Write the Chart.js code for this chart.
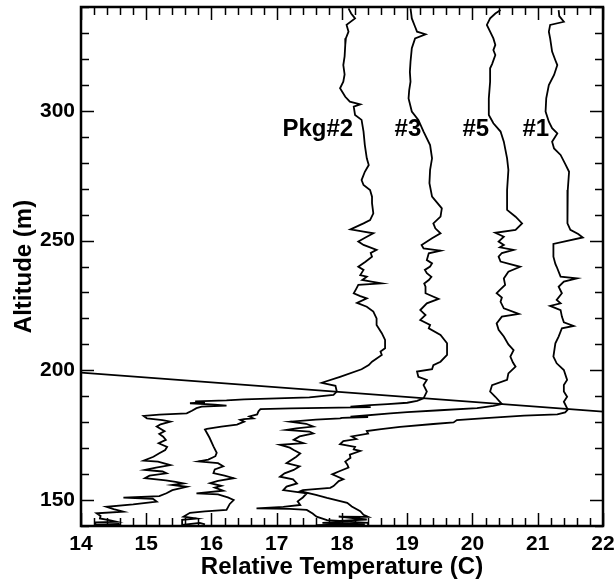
<!DOCTYPE html>
<html>
<head>
<meta charset="utf-8">
<script src="https://cdn.jsdelivr.net/npm/chart.js@4.4.0/dist/chart.umd.min.js"></script>
<style>
  html, body { margin: 0; padding: 0; background: #fff; }
  #wrap { width: 615px; height: 582px; }
</style>
</head>
<body>
<div id="wrap"><canvas id="chart" width="615" height="582"></canvas></div>
<script>
// profiles: [altitude (m), relative temperature (C)]
const pkg2 = [
  [339.5,18.10],[337.5,18.14],[335.6,18.20],[333.1,18.07],[330.5,18.10],[328,18.06],[325.4,18.05],[321,18.04],
  [317.6,18.02],[314,18.04],[311.2,18.02],[308.7,17.97],[305.4,18.05],[303.5,18.12],[302.5,18.28],[301.6,18.18],
  [298.4,18.20],[296.5,18.30],[292.0,18.33],[286.8,18.35],[281.7,18.38],[279.1,18.41],[276.5,18.35],[273.3,18.30],
  [271.4,18.33],[269.5,18.43],[266.9,18.46],[264.4,18.46],[260.5,18.48],[257.9,18.43],[256.6,18.33],[254.3,18.13],
  [253.4,18.33],[252.8,18.48],[251.2,18.36],[249.6,18.25],[248.3,18.33],[246.4,18.53],[245.2,18.44],[243.8,18.46],
  [241.8,18.36],[239.9,18.25],[238.7,18.33],[236.7,18.28],[236.1,18.38],[234.8,18.31],[234.2,18.45],[233.5,18.61],
  [232.9,18.25],[231.5,18.22],[229.7,18.18],[228.6,18.28],[227.7,18.38],[226.0,18.23],[224.5,18.38],[222.6,18.48],
  [220.0,18.53],[217.5,18.53],[214.3,18.61],[211.7,18.66],[208.5,18.66],[207.2,18.59],[205.9,18.61],[203.3,18.46],
  [202.0,18.41],[200.4,18.30],[197.5,17.97],[195.2,17.69],[194.0,17.90],[191.8,17.92],[190.5,17.87],
  [189.6,17.5],[189.2,17.0],[188.8,16.5],[188.4,16.23],[188.0,15.75],[187.6,15.90],[187.3,15.67],[186.8,16.05],
  [186.4,16.23],[186.0,15.85],[185.4,15.77],[184.4,15.70],[183.4,15.62],[182.9,15.20],[182.4,14.96],[181.5,15.01],
  [180.8,15.25],[180.2,15.37],[179.2,15.22],[178.3,15.16],[176.5,15.28],[175.5,15.20],[174.4,15.26],[173.2,15.30],
  [171.9,15.19],[170.5,15.32],[169.3,15.29],[168.0,15.20],[166.7,15.11],[165.2,14.96],[164.8,15.18],[163.5,15.37],
  [162.5,15.15],[161.6,14.98],[161.0,15.25],[160.3,15.31],[159.4,15.05],[158.4,14.98],[157.6,15.30],[157.0,15.45],
  [156.4,15.57],[155.8,15.40],[155.1,15.62],[153.8,15.40],[152.6,15.31],[151.5,15.20],[150.9,14.65],[150.5,15.10],
  [149.4,15.16],[148.3,14.80],[147.4,14.39],[146.5,14.50],[145.5,14.65],[144.9,14.24],[143.9,14.30],[142.9,14.29],
  [142.2,14.45],[141.6,14.55],[141.4,14.22],[140.5,14.22],[140.8,14.58],[140.2,14.60]
];
const pkg3 = [
  [339.5,19.05],[335.6,19.07],[332.4,19.12],[330.5,19.15],[329.5,19.28],[327.9,19.12],[324.1,19.07],[318.9,19.05],
  [315,19.04],[311.2,19.05],[308,19.03],[304.8,19.02],[299.7,19.07],[296.5,19.17],[292.0,19.25],[286.8,19.35],
  [281.7,19.38],[277.2,19.35],[272.1,19.34],[266.9,19.38],[262.4,19.53],[259.2,19.51],[256.6,19.40],[254.7,19.43],
  [252.8,19.51],[250.9,19.38],[248.3,19.22],[247.0,19.25],[246.1,19.51],[245.1,19.33],[242.5,19.30],[241.2,19.38],
  [240.0,19.35],[238.7,19.27],[237.4,19.30],[236.0,19.37],[234.8,19.33],[233.4,19.26],[232.2,19.28],[229.7,19.28],
  [227.5,19.48],[225.8,19.30],[223.2,19.20],[221.3,19.28],[219.4,19.20],[217.5,19.35],[216.2,19.33],[213.6,19.51],
  [210.4,19.61],[205.9,19.61],[203.3,19.51],[202.0,19.40],[200.4,19.38],[199.5,19.15],[197.5,19.17],[196.3,19.30],
  [194.3,19.25],[191.8,19.30],[189.2,19.25],
  [188.2,19.15],[187.5,19.00],[187.0,18.70],[186.6,18.43],[186.0,18.13],[185.8,18.44],[185.3,17.21],[185.0,16.75],
  [184.2,16.72],[183.0,16.70],[182.2,16.58],[181.5,16.64],[181.2,16.50],[180.9,16.44],[180.2,16.50],[179.1,16.39],
  [178.3,16.15],[177.4,15.93],[177.2,15.90],[174,15.97],[170.7,16.03],[168.2,16.08],[166.9,16.06],[165.6,15.95],
  [164.9,15.80],[164.2,16.10],[163.0,16.18],[161.8,16.05],[160.4,16.03],[159.4,16.20],[158.4,16.34],[157.4,16.10],
  [156.5,15.98],[155.5,16.15],[154.8,16.05],[153.6,16.18],[152.6,15.77],[152.2,16.10],[151.0,16.25],[150.0,16.34],
  [148.5,16.28],[146.2,16.23],[145.6,15.90],[145.1,15.67],[143.6,15.57],[142.9,15.77],[142.4,15.55],[140.4,15.55],
  [141.2,15.82],[140.6,15.90]
];
const pkg5 = [
  [338.8,20.43],[337.5,20.35],[335.6,20.27],[333.1,20.22],[330.5,20.27],[327.9,20.32],[325.4,20.35],[323.4,20.32],
  [321.5,20.35],[318,20.30],[316.4,20.27],[311.2,20.27],[304.8,20.25],[298.4,20.25],[295.2,20.32],[292.0,20.43],
  [288.1,20.48],[281.7,20.53],[277.2,20.55],[269.5,20.53],[261.8,20.53],[259.2,20.66],[256.6,20.76],[254.1,20.66],
  [253.0,20.35],[251.5,20.48],[249.6,20.40],[248.3,20.48],[247.4,20.42],[246.4,20.63],[245.2,20.45],[243.8,20.40],
  [241.9,20.43],[239.9,20.73],[238.0,20.55],[235.4,20.48],[232.9,20.50],[231,20.42],[229.7,20.37],[228,20.45],
  [226.4,20.43],[223.9,20.48],[221.7,20.71],[220.7,20.45],[218.1,20.37],[215.6,20.40],[213.0,20.48],[210,20.55],
  [207.8,20.63],[205.3,20.58],[203,20.62],[201.4,20.66],[198.8,20.55],[196.3,20.53],[194.3,20.30],[191.8,20.27],
  [189.8,20.35],[187.0,20.45],
  [186.3,20.32],[185.4,20.07],[184.6,19.5],[183.9,19.0],[183.4,18.74],[182.1,18.13],[182.0,18.40],[181.7,18.0],
  [181.5,17.97],[181.0,17.6],[180.2,17.21],[179.4,17.45],[178.3,17.56],[177.6,17.30],[177.0,17.15],[176.4,17.50],
  [175.7,17.56],[174.5,17.35],[173.2,17.26],[171.9,17.41],[171.3,17.05],[170.2,17.20],[169.3,17.26],[168.0,17.36],
  [166.7,17.30],[164.2,17.15],[163.0,17.35],[161.6,17.26],[160.3,17.12],[159.0,17.05],[158.0,17.25],[156.4,17.31],
  [155.2,17.15],[153.8,17.10],[152.6,17.46],[151,17.40],[149.5,17.32],[148.1,17.36],[147.4,17.10],[146.8,16.69],
  [146.6,17.20],[146.2,17.46],[144.8,17.55],[143.6,17.61],[142.3,17.77],[141.8,18.10],[141.2,17.70],[140.7,18.35],
  [140.3,17.60]
];
const pkg1 = [
  [338.8,21.32],[336.5,21.33],[334.3,21.40],[333.1,21.19],[330.5,21.17],[327.9,21.19],[322.8,21.22],[319.5,21.27],
  [317.6,21.30],[313.8,21.25],[309.9,21.17],[304.8,21.13],[299.7,21.12],[295.8,21.17],[293.3,21.22],[291.3,21.30],
  [288.1,21.22],[285.5,21.25],[283.0,21.35],[279.1,21.43],[276.5,21.48],[269.5,21.46],[261.8,21.46],[256.6,21.45],
  [254.1,21.50],[252.5,21.62],[251.2,21.69],[249.6,21.40],[248.7,21.24],[243.8,21.24],[241,21.27],[239.9,21.29],
  [236.1,21.35],[235.4,21.60],[234.2,21.40],[232.2,21.32],[229.7,21.37],[227.1,21.29],[225.8,21.35],[224.8,21.19],
  [223.2,21.35],[220.7,21.37],[218.5,21.40],[217.1,21.55],[216.2,21.37],[213.0,21.32],[210.4,21.27],[205.3,21.24],
  [202.7,21.29],[200.1,21.40],[196.3,21.45],[194.3,21.40],[191.8,21.40],[189.8,21.45],[187.9,21.40],[184.9,21.46],
  [183.8,21.42],[183.0,21.30],[182.5,20.79],[181.6,20.20],[180.8,19.76],[179.9,19.71],[179.3,19.40],[178.2,18.89],
  [177.3,18.60],[176.6,18.38],[175.6,18.40],[174.5,18.15],[173.5,18.22],[172.7,18.02],[171.5,17.97],[170.5,18.20],
  [169.5,18.18],[168.9,18.28],[167.5,18.12],[166.3,18.13],[164.8,18.05],[163.7,18.08],[162.5,18.10],[161,17.95],
  [159.9,17.85],[158.0,18.02],[157.3,17.95],[155.4,17.87],[154.7,17.82],[153.8,17.40],[153.4,17.36],[152.0,17.60],
  [150.8,17.77],[148.9,18.08],[147.5,18.15],[145.7,18.28],[144.3,18.33],[143.5,18.40],[143.6,17.95],[142.5,18.38],
  [141.9,17.90],[141.2,18.40],[140.4,18.40]
];
// straight reference line through the inversion peaks
const peakLine = [[199.1,14],[184.1,22]];

const profileNames = ['Pkg#2', '#3', '#5', '#1'];
const xTicks = [14, 15, 16, 17, 18, 19, 20, 21, 22];
const yTicks = [150, 200, 250, 300];

const FONT = '"Liberation Sans", Arial, Helvetica, sans-serif';
const toXY = rows => rows.map(r => ({ x: r[1], y: r[0] }));

function lineSet(rows) {
  return {
    data: toXY(rows),
    showLine: true,
    borderColor: '#000',
    borderWidth: 1.8,
    pointRadius: 0,
    tension: 0
  };
}

// frame, inward ticks on all four sides, profile names
const framePlugin = {
  id: 'frame',
  afterDraw(chart) {
    const { ctx, chartArea: a, scales: { x, y } } = chart;
    ctx.save();
    ctx.strokeStyle = '#000';
    ctx.lineWidth = 1.5;
    ctx.beginPath();
    for (let v = 14; v <= 22.001; v += 0.2) {
      const px = Math.round(x.getPixelForValue(v)) + 0.5;
      const len = Math.abs(v - Math.round(v)) < 0.01 ? 13 : 8;
      ctx.moveTo(px, a.bottom); ctx.lineTo(px, a.bottom - len);
      ctx.moveTo(px, a.top); ctx.lineTo(px, a.top + len);
    }
    for (let v = 140; v <= 340; v += 10) {
      const py = Math.round(y.getPixelForValue(v)) + 0.5;
      const len = v % 50 === 0 ? 13 : 8;
      ctx.moveTo(a.left, py); ctx.lineTo(a.left + len, py);
      ctx.moveTo(a.right, py); ctx.lineTo(a.right - len, py);
    }
    ctx.stroke();
    ctx.lineWidth = 2.5;
    ctx.strokeRect(a.left, a.top, a.right - a.left, a.bottom - a.top);

    ctx.fillStyle = '#000';
    ctx.font = 'bold 24px ' + FONT;
    ctx.textAlign = 'center';
    ctx.textBaseline = 'middle';
    const anchors = [17.63, 19.01, 20.05, 20.97];
    profileNames.forEach((name, i) => {
      ctx.fillText(name, x.getPixelForValue(anchors[i]), y.getPixelForValue(293));
    });
    ctx.restore();
  }
};

new Chart(document.getElementById('chart'), {
  type: 'scatter',
  data: {
    datasets: [lineSet(pkg2), lineSet(pkg3), lineSet(pkg5), lineSet(pkg1), lineSet(peakLine)]
  },
  options: {
    responsive: false,
    animation: false,
    devicePixelRatio: 1,
    layout: { padding: { top: 7, right: 12, left: 0, bottom: 0 } },
    plugins: { legend: { display: false }, tooltip: { enabled: false } },
    scales: {
      x: {
        type: 'linear',
        min: 14,
        max: 22,
        afterBuildTicks: s => { s.ticks = xTicks.map(v => ({ value: v })); },
        afterFit: s => { s.height = 56; s.paddingLeft = 0; s.paddingRight = 0; },
        grid: { display: false, drawTicks: false },
        border: { display: false },
        ticks: { color: '#000', padding: 6, font: { family: FONT, size: 21, weight: 'bold' } },
        title: {
          display: true,
          text: 'Relative Temperature (C)',
          color: '#000',
          padding: { top: 0, bottom: 0 },
          font: { family: FONT, size: 24, weight: 'bold' }
        }
      },
      y: {
        type: 'linear',
        min: 140,
        max: 340,
        afterBuildTicks: s => { s.ticks = yTicks.map(v => ({ value: v })); },
        afterFit: s => { s.width = 81; s.paddingTop = 0; s.paddingBottom = 0; },
        grid: { display: false, drawTicks: false },
        border: { display: false },
        ticks: { color: '#000', padding: 6, font: { family: FONT, size: 21, weight: 'bold' } },
        title: {
          display: true,
          text: 'Altitude (m)',
          color: '#000',
          padding: { top: 10, bottom: 0 },
          font: { family: FONT, size: 24, weight: 'bold' }
        }
      }
    }
  },
  plugins: [framePlugin]
});
</script>
</body>
</html>
